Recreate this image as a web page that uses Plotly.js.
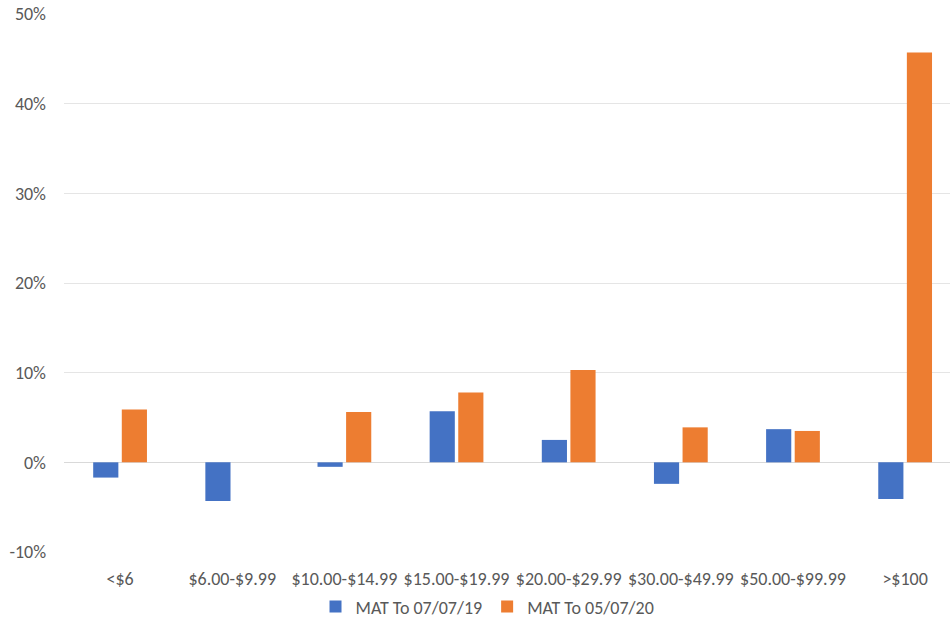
<!DOCTYPE html>
<html>
<head>
<meta charset="utf-8">
<script src="https://cdn.plot.ly/plotly-3.0.1.min.js"></script>
<style>
  html, body { margin: 0; padding: 0; background: #ffffff; }
  #chart { width: 950px; height: 623px; }
</style>
</head>
<body>
<div id="chart"></div>
<script>
// Price bands
const categories = ['<$6', '$6.00-$9.99', '$10.00-$14.99', '$15.00-$19.99',
                    '$20.00-$29.99', '$30.00-$49.99', '$50.00-$99.99', '>$100'];

// Growth by price band (fraction)
const mat2019 = [-0.017, -0.043, -0.005, 0.057, 0.025, -0.024, 0.037, -0.041];
const mat2020 = [0.059, 0.000, 0.056, 0.078, 0.103, 0.039, 0.035, 0.457];

const seriesNames = ['MAT To 07/07/19', 'MAT To 05/07/20'];
const yTicks = [-0.1, 0, 0.1, 0.2, 0.3, 0.4, 0.5];
const yTickText = ['-10%', '0%', '10%', '20%', '30%', '40%', '50%'];

const textColor = '#595959';
const fontFamily = 'Carlito, Calibri, "Liberation Sans", Arial, sans-serif';

const data = [
  {
    type: 'bar', name: seriesNames[0], x: categories, y: mat2019,
    marker: { color: '#4472C4' }, hoverinfo: 'x+y'
  },
  {
    type: 'bar', name: seriesNames[1], x: categories, y: mat2020,
    marker: { color: '#ED7D31' }, hoverinfo: 'x+y'
  }
];

const layout = {
  width: 950, height: 623,
  margin: { l: 64, r: 0, t: 14, b: 71, autoexpand: false },
  paper_bgcolor: '#ffffff', plot_bgcolor: '#ffffff',
  barmode: 'group', bargap: 0.49, bargroupgap: 0.12,
  font: { family: fontFamily, size: 18, color: textColor },
  showlegend: true,
  legend: {
    orientation: 'h', x: 0.478, xanchor: 'center',
    yref: 'container', y: 0.026, yanchor: 'middle',
    font: { size: 18, color: textColor }, itemwidth: 30, tracegroupgap: 0
  },
  xaxis: {
    type: 'category', range: [-0.5, 7.4], automargin: false,
    showgrid: false, zeroline: false, showline: false, ticks: '',
    ticklabelstandoff: 14, tickfont: { size: 18, color: textColor },
    fixedrange: true
  },
  yaxis: {
    range: [-0.1, 0.5], tickvals: yTicks, ticktext: yTickText, automargin: false,
    showgrid: true, gridcolor: '#e5e5e5', gridwidth: 1,
    zeroline: true, zerolinecolor: '#d9d9d9', zerolinewidth: 1,
    showline: false, ticks: '', ticklabelstandoff: 17,
    tickfont: { size: 18, color: textColor }, fixedrange: true
  }
};

Plotly.newPlot('chart', data, layout, { displayModeBar: false, staticPlot: true });
</script>
</body>
</html>
